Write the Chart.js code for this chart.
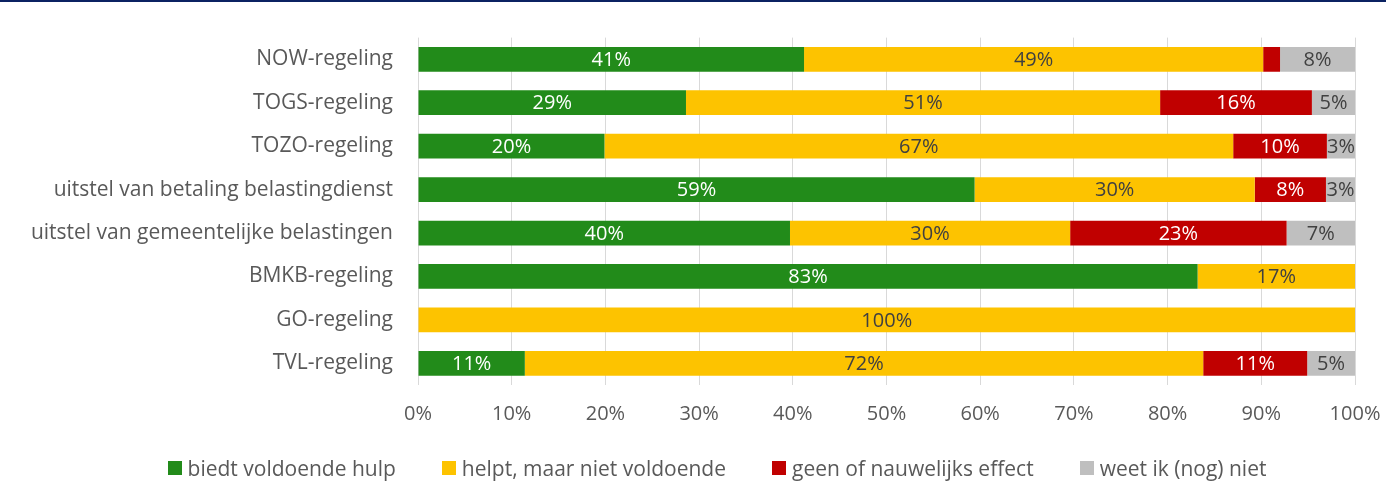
<!DOCTYPE html>
<html>
<head>
<meta charset="utf-8">
<script src="https://cdn.jsdelivr.net/npm/chart.js@4/dist/chart.umd.min.js"></script>
<style>
  html, body { margin: 0; padding: 0; background: #ffffff; }
  #wrap { position: relative; width: 1386px; height: 502px; overflow: hidden; background: #fff; }
  #topbar { position: absolute; left: 0; top: 0; width: 1386px; height: 2px; background: #0b2262; }
  #chart { position: absolute; left: 0; top: 0; }
  #legend { position: absolute; left: 0; top: 455px; width: 1434px; display: flex; justify-content: center;
            font-family: "Open Sans", sans-serif; font-size: 21px; color: #595959; line-height: 26px; }
  .item { display: flex; align-items: center; margin: 0 23px; white-space: nowrap; }
  .box { width: 14px; height: 14px; margin-right: 6px; }
</style>
</head>
<body>
<div id="wrap">
  <canvas id="chart" width="1386" height="502"></canvas>
  <div id="topbar"></div>
  <div id="legend"></div>
</div>
<script>
// ---- data ----
const categories = [
  'NOW-regeling',
  'TOGS-regeling',
  'TOZO-regeling',
  'uitstel van betaling belastingdienst',
  'uitstel van gemeentelijke belastingen',
  'BMKB-regeling',
  'GO-regeling',
  'TVL-regeling'
];
const seriesNames = [
  'biedt voldoende hulp',
  'helpt, maar niet voldoende',
  'geen of nauwelijks effect',
  'weet ik (nog) niet'
];
const voldoende     = [41.2, 28.6, 19.9, 59.4, 39.7, 83.2,   0, 11.4];
const nietVoldoende = [49.0, 50.6, 67.1, 29.9, 29.9, 16.8, 100, 72.4];
const geenEffect    = [ 1.8, 16.2, 10.0,  7.6, 23.1,  0,     0, 11.1];
const weetNiet      = [ 8.0,  4.6,  3.0,  3.1,  7.3,  0,     0,  5.1];
const xTickValues   = [0, 10, 20, 30, 40, 50, 60, 70, 80, 90, 100];

// ---- styles ----
const seriesColors = ['#228b1a', '#fdc300', '#c00000', '#bfbfbf'];
const labelColors  = ['#ffffff', '#404040', '#ffffff', '#404040'];
const FONT = '"Open Sans", sans-serif';
const FS = 20;
const FS_CAT = 21;

const seriesData = [voldoende, nietVoldoende, geenEffect, weetNiet];

const barLabels = {
  id: 'barLabels',
  afterDatasetsDraw(chart) {
    const ctx = chart.ctx;
    ctx.save();
    ctx.font = FS + 'px ' + FONT;
    ctx.textAlign = 'center';
    ctx.textBaseline = 'middle';
    chart.data.datasets.forEach((ds, i) => {
      const meta = chart.getDatasetMeta(i);
      meta.data.forEach((bar, j) => {
        const v = ds.data[j];
        if (v < 2.5) return;
        const p = bar.getProps(['x', 'base', 'y'], true);
        ctx.fillStyle = labelColors[i];
        ctx.fillText(Math.round(v) + '%', (p.x + p.base) / 2, p.y + 1);
      });
    });
    ctx.restore();
  }
};

const chart = new Chart(document.getElementById('chart'), {
  type: 'bar',
  data: {
    labels: categories,
    datasets: seriesNames.map((name, i) => ({
      label: name,
      data: seriesData[i],
      backgroundColor: seriesColors[i],
      borderWidth: 0,
      barPercentage: 1,
      categoryPercentage: 25 / 43.9
    }))
  },
  options: {
    indexAxis: 'y',
    responsive: false,
    animation: false,
    layout: { padding: { left: 0, right: 31, top: 34, bottom: 0 } },
    plugins: {
      legend: { display: false },
      tooltip: { enabled: false }
    },
    scales: {
      x: {
        stacked: true,
        min: 0,
        max: 100,
        afterBuildTicks(scale) { scale.ticks = xTickValues.map(v => ({ value: v })); },
        afterFit(scale) {
          scale.height = 117;
          scale.paddingLeft = 0;
          scale.paddingRight = 0;
        },
        grid: { color: '#d9d9d9', lineWidth: 1, drawTicks: false },
        border: { display: false },
        ticks: {
          padding: 17,
          color: '#595959',
          font: { family: FONT, size: FS },
          callback: v => v + '%'
        }
      },
      y: {
        stacked: true,
        afterFit(scale) { scale.width = 418; },
        grid: { display: false, drawTicks: false },
        border: { display: false },
        ticks: {
          padding: 25,
          color: '#595959',
          font: { family: FONT, size: FS_CAT }
        }
      }
    }
  },
  plugins: [barLabels]
});

// HTML legend built from the chart's datasets
const legendEl = document.getElementById('legend');
chart.data.datasets.forEach(ds => {
  const it = document.createElement('div');
  it.className = 'item';
  const b = document.createElement('span');
  b.className = 'box';
  b.style.background = ds.backgroundColor;
  const t = document.createElement('span');
  t.textContent = ds.label;
  it.appendChild(b);
  it.appendChild(t);
  legendEl.appendChild(it);
});
</script>
</body>
</html>
